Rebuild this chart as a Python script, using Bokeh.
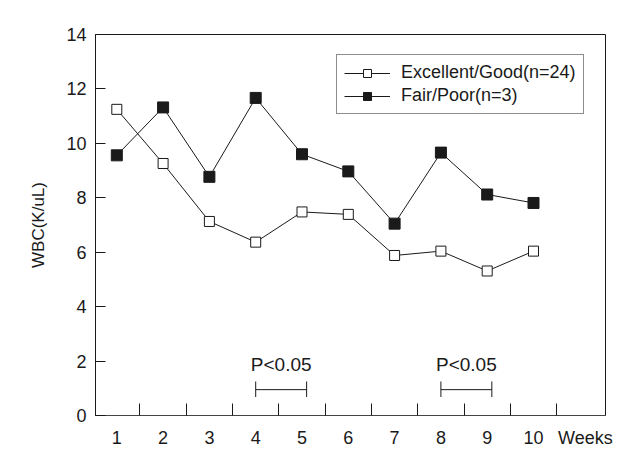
from bokeh.plotting import figure
from bokeh.models import Range1d, FixedTicker, Legend, LegendItem, ColumnDataSource
from bokeh.core.properties import value
from bokeh.embed import file_html
from bokeh.resources import INLINE

weeks = [1, 2, 3, 4, 5, 6, 7, 8, 9, 10]
good = [11.25, 9.26, 7.13, 6.37, 7.48, 7.39, 5.88, 6.04, 5.31, 6.04]
poor = [9.56, 11.32, 8.77, 11.67, 9.60, 8.97, 7.05, 9.66, 8.12, 7.81]
good_name = "Excellent/Good(n=24)"
poor_name = "Fair/Poor(n=3)"
y_ticks = [0, 2, 4, 6, 8, 10, 12, 14]
x_label_ticks = [1, 2, 3, 4, 5, 6, 7, 8, 9, 10, 11.12]
x_label_texts = ["1", "2", "3", "4", "5", "6", "7", "8", "9", "10", "Weeks"]
x_minor = [1.5, 2.5, 3.5, 4.5, 5.5, 6.5, 7.5, 8.5, 9.5, 10.5]
sig_start = [4.0, 8.0]
sig_end = [5.1, 9.1]
sig_level = [0.95, 0.95]
sig_text = ["P<0.05", "P<0.05"]

FONT = "Liberation Sans"
INK = "#1a1a1a"

p = figure(width=625, height=451, output_backend="svg", toolbar_location=None,
           x_range=Range1d(0.54, 11.555), y_range=Range1d(0, 14),
           min_border_left=95, min_border_right=20, min_border_top=34, min_border_bottom=36)
p.background_fill_color = "white"
p.border_fill_color = "white"
p.outline_line_color = INK
p.outline_line_width = 1
p.xgrid.visible = False
p.ygrid.visible = False

# axes
xa = p.xaxis[0]
xa.ticker = FixedTicker(ticks=x_label_ticks, minor_ticks=x_minor)
overrides = {}
for t, s in zip(x_label_ticks, x_label_texts):
    overrides[t] = s
    overrides[str(t)] = s
xa.major_label_overrides = overrides
xa.major_tick_in = 0
xa.major_tick_out = 0
xa.minor_tick_in = 12
xa.minor_tick_out = 0
xa.minor_tick_line_color = INK
xa.axis_line_color = "#444444"
xa.major_label_text_font = FONT
xa.major_label_text_font_size = "18px"
xa.major_label_text_color = INK
xa.major_label_standoff = 12

ya = p.yaxis[0]
ya.ticker = FixedTicker(ticks=y_ticks, minor_ticks=[])
ya.major_tick_in = 10
ya.major_tick_out = 0
ya.major_tick_line_color = INK
ya.minor_tick_in = 0
ya.minor_tick_out = 0
ya.axis_line_color = INK
ya.major_label_text_font = FONT
ya.major_label_text_font_size = "18px"
ya.major_label_text_color = INK
ya.major_label_standoff = 9
ya.axis_label = "WBC(K/uL)"
ya.axis_label_text_font = FONT
ya.axis_label_text_font_size = "17px"
ya.axis_label_text_font_style = "normal"
ya.axis_label_text_color = INK
ya.axis_label_standoff = 15

src = ColumnDataSource(dict(week=weeks, good=good, poor=poor))

l1 = p.line("week", "good", source=src, line_color=INK, line_width=1)
s1 = p.scatter("week", "good", source=src, marker="square", size=10,
               fill_color="white", line_color=INK, line_width=1)
l2 = p.line("week", "poor", source=src, line_color=INK, line_width=1)
s2 = p.scatter("week", "poor", source=src, marker="square", size=11,
               fill_color=INK, line_color=INK, line_width=1)

# significance brackets
sig = ColumnDataSource(dict(x0=sig_start, x1=sig_end, y=sig_level,
                            lo=[v - 0.27 for v in sig_level], hi=[v + 0.3 for v in sig_level],
                            xm=[(a + b) / 2 for a, b in zip(sig_start, sig_end)],
                            ty=[v + 0.92 for v in sig_level], txt=sig_text))
p.segment(x0="x0", y0="y", x1="x1", y1="y", source=sig, line_color=INK, line_width=1)
p.segment(x0="x0", y0="lo", x1="x0", y1="hi", source=sig, line_color=INK, line_width=1)
p.segment(x0="x1", y0="lo", x1="x1", y1="hi", source=sig, line_color=INK, line_width=1)
p.text(x="xm", y="ty", text="txt", source=sig, text_font=value(FONT),
       text_font_size="19px", text_align="center", text_baseline="alphabetic",
       text_color=INK)

legend = Legend(items=[LegendItem(label=good_name, renderers=[l1, s1]),
                       LegendItem(label=poor_name, renderers=[l2, s2])],
                location=(241, 301))
legend.label_text_font = FONT
legend.label_text_font_size = "18px"
legend.label_text_color = INK
legend.border_line_color = INK
legend.border_line_width = 1
legend.background_fill_alpha = 1
legend.padding = 7
legend.spacing = 2
legend.glyph_width = 46
legend.glyph_height = 20
legend.label_height = 20
legend.label_standoff = 11
legend.margin = 0
p.add_layout(legend)

open("out.html", "w").write(file_html(p, INLINE))
